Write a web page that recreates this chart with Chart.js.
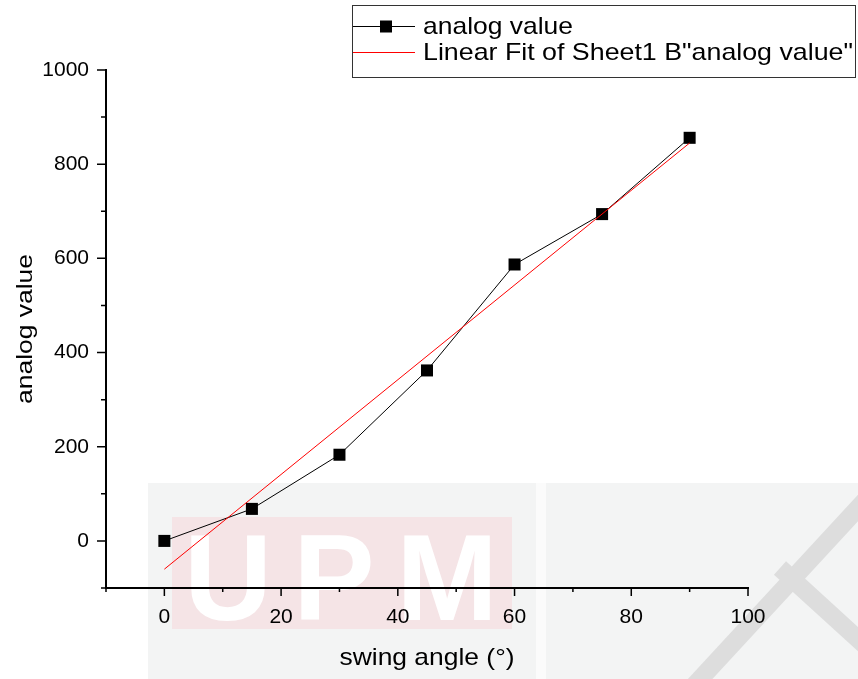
<!DOCTYPE html>
<html>
<head>
<meta charset="utf-8">
<script src="https://cdn.jsdelivr.net/npm/chart.js@4.4.0/dist/chart.umd.min.js"></script>
<style>
  html, body { margin: 0; padding: 0; background: #fff; }
  #wrap { position: relative; width: 858px; height: 679px; }
</style>
</head>
<body>
<div id="wrap"><canvas id="chart" width="858" height="679"></canvas></div>
<script>
// values
const swingAngles = [0, 15, 30, 45, 60, 75, 90];
const analogValues = [0, 68, 183, 362, 587, 694, 856];
const fitAngles = [0, 90];
const fitValues = [-60, 845];
const xTickLabels = [0, 20, 40, 60, 80, 100];
const yTickLabels = [0, 200, 400, 600, 800, 1000];
const xTitle = 'swing angle (°)';
const yTitle = 'analog value';

const FONT = '"Liberation Sans", Arial, sans-serif';

// the exported figure has horizontally stretched lettering, so squeeze text to a width
function stretchText(ctx, text, x, y, size, width, align) {
    ctx.font = size + 'px ' + FONT;
    const w = ctx.measureText(text).width;
    const sx = width / w;
    ctx.save();
    ctx.translate(x, y);
    ctx.scale(sx, 1);
    ctx.textAlign = align;
    ctx.textBaseline = 'alphabetic';
    ctx.fillText(text, 0, 0);
    ctx.restore();
}

// faint background watermark behind the plot
const watermark = {
    id: 'watermark',
    beforeDraw: (chart) => {
        const ctx = chart.ctx;
        ctx.save();
        ctx.fillStyle = '#f3f4f4';
        ctx.fillRect(148, 483, 710, 196);
        ctx.fillStyle = '#fbfbfb';
        ctx.fillRect(536, 483, 10, 196);
        ctx.fillStyle = '#f5e4e6';
        ctx.fillRect(172, 517, 340, 112);
        ctx.fillStyle = '#ffffff';
        ctx.font = 'bold 122px ' + FONT;
        ctx.textAlign = 'center';
        ctx.textBaseline = 'alphabetic';
        ctx.fillText('U', 228, 620);
        ctx.fillText('P', 334, 620);
        ctx.fillText('M', 447, 620);
        ctx.strokeStyle = 'rgba(215,215,215,0.8)';
        ctx.lineWidth = 18;
        ctx.beginPath();
        ctx.moveTo(870, 495);
        ctx.lineTo(690, 690);
        ctx.moveTo(780, 568);
        ctx.lineTo(870, 650);
        ctx.stroke();
        ctx.restore();
    }
};

// Origin style tick marks, axis titles and boxed legend
const decorations = {
    id: 'decorations',
    afterDraw: (chart) => {
        const ctx = chart.ctx;
        const xs = chart.scales.x;
        const ys = chart.scales.y;
        ctx.save();
        ctx.strokeStyle = '#000';
        ctx.lineWidth = 1.5;
        ctx.beginPath();
        xs.ticks.forEach(t => {
            const px = xs.getPixelForValue(t.value);
            const len = xTickLabels.includes(t.value) ? 8 : 4;
            ctx.moveTo(px, ys.bottom);
            ctx.lineTo(px, ys.bottom + len);
        });
        ys.ticks.forEach(t => {
            const py = ys.getPixelForValue(t.value);
            const len = yTickLabels.includes(t.value) ? 9 : 5;
            ctx.moveTo(xs.left, py);
            ctx.lineTo(xs.left - len, py);
        });
        ctx.stroke();

        // axis titles
        ctx.fillStyle = '#000';
        stretchText(ctx, xTitle, (xs.left + xs.right) / 2, 665, 24, 175, 'center');
        ctx.save();
        ctx.translate(32, (ys.top + ys.bottom) / 2);
        ctx.rotate(-Math.PI / 2);
        stretchText(ctx, yTitle, 0, 0, 22, 150, 'center');
        ctx.restore();

        // legend
        ctx.lineWidth = 1;
        ctx.strokeStyle = '#333';
        ctx.strokeRect(352.5, 5.5, 503, 72);
        const sets = chart.data.datasets;

        ctx.strokeStyle = sets[1].borderColor;
        ctx.beginPath();
        ctx.moveTo(353, 26.5);
        ctx.lineTo(415, 26.5);
        ctx.stroke();
        ctx.fillStyle = '#000';
        ctx.fillRect(380, 20.5, 12, 12);
        stretchText(ctx, sets[1].label, 423, 34, 24, 150, 'left');

        ctx.strokeStyle = sets[0].borderColor;
        ctx.beginPath();
        ctx.moveTo(353, 52.5);
        ctx.lineTo(415, 52.5);
        ctx.stroke();
        stretchText(ctx, sets[0].label, 423, 60, 24, 430, 'left');
        ctx.restore();
    }
};

const ctx = document.getElementById('chart').getContext('2d');
new Chart(ctx, {
    type: 'line',
    data: {
        datasets: [
            {
                label: 'Linear Fit of Sheet1 B"analog value"',
                data: fitAngles.map((x, i) => ({ x: x, y: fitValues[i] })),
                borderColor: '#ff0000',
                borderWidth: 1,
                pointRadius: 0,
                fill: false,
                order: 0
            },
            {
                label: 'analog value',
                data: swingAngles.map((x, i) => ({ x: x, y: analogValues[i] })),
                borderColor: '#000000',
                backgroundColor: '#000000',
                borderWidth: 1,
                pointStyle: 'rect',
                pointRadius: 8.5,
                pointBorderWidth: 0,
                fill: false,
                order: 1
            }
        ]
    },
    options: {
        responsive: false,
        animation: false,
        events: [],
        layout: { padding: { top: 70, right: 110, left: 0, bottom: 0 } },
        plugins: {
            legend: { display: false },
            title: { display: false },
            tooltip: { enabled: false }
        },
        scales: {
            x: {
                type: 'linear',
                min: -10,
                max: 100,
                grid: { display: false, drawTicks: false },
                border: { display: true, color: '#000', width: 2 },
                ticks: {
                    stepSize: 10,
                    autoSkip: false,
                    maxRotation: 0,
                    padding: 17,
                    color: '#000',
                    font: { family: FONT, size: 21 },
                    callback: (v) => xTickLabels.includes(v) ? String(v) : ''
                },
                afterFit: (scale) => { scale.height = 91; }
            },
            y: {
                type: 'linear',
                min: -100,
                max: 1000,
                grid: { display: false, drawTicks: false },
                border: { display: true, color: '#000', width: 2 },
                ticks: {
                    stepSize: 100,
                    autoSkip: false,
                    padding: 17,
                    color: '#000',
                    font: { family: FONT, size: 21 },
                    callback: (v) => yTickLabels.includes(v) ? String(v) : ''
                },
                afterFit: (scale) => { scale.width = 106; }
            }
        }
    },
    plugins: [watermark, decorations]
});
</script>
</body>
</html>
